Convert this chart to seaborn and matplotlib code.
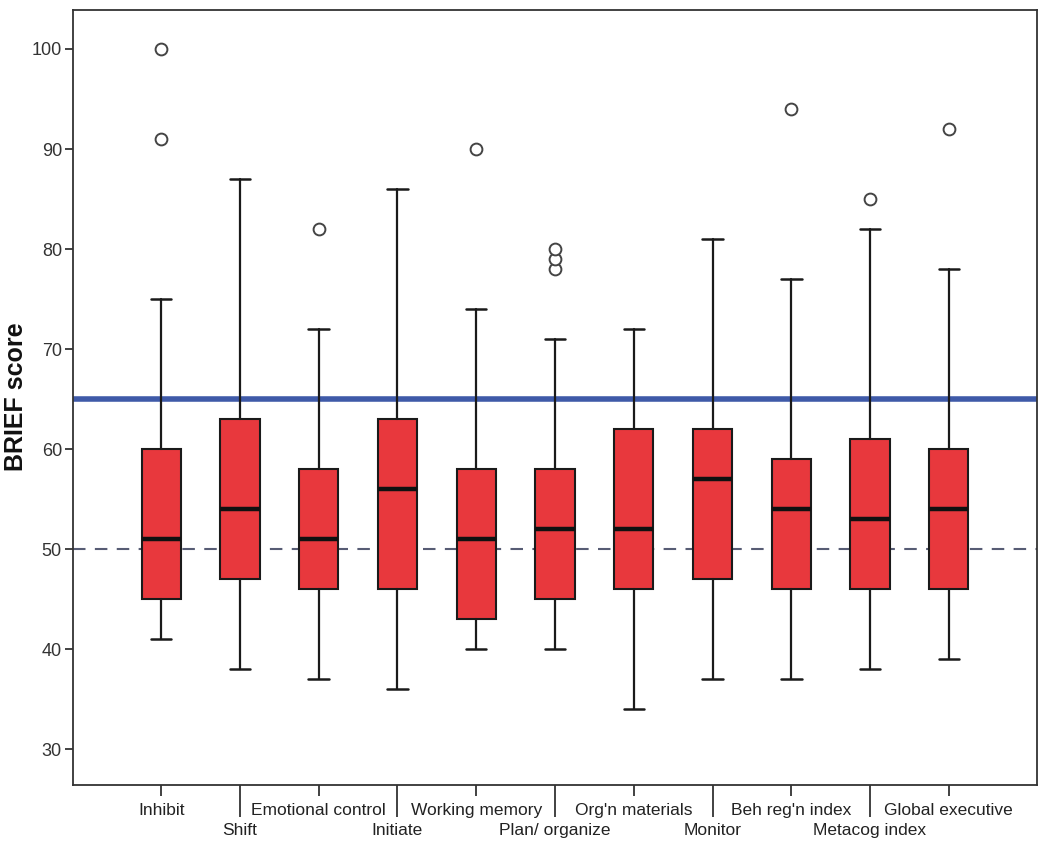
import matplotlib
matplotlib.use("Agg")
import matplotlib.pyplot as plt
import seaborn as sns

# ---- data ----
categories = ["Inhibit", "Shift", "Emotional control", "Initiate", "Working memory",
              "Plan/ organize", "Org'n materials", "Monitor", "Beh reg'n index",
              "Metacog index", "Global executive"]
whisker_low = [41, 38, 37, 36, 40, 40, 34, 37, 37, 38, 39]
q1 = [45, 47, 46, 46, 43, 45, 46, 47, 46, 46, 46]
median = [51, 54, 51, 56, 51, 52, 52, 57, 54, 53, 54]
q3 = [60, 63, 58, 63, 58, 58, 62, 62, 59, 61, 60]
whisker_high = [75, 87, 72, 86, 74, 71, 72, 81, 77, 82, 78]
outliers = [[91, 100], [], [82], [], [90], [78, 79, 80], [], [], [94], [85], [92]]
clinical_cutoff = 65
norm_mean = 50
y_ticks = [30, 40, 50, 60, 70, 80, 90, 100]

sns.set_theme(style="ticks")
plt.rcParams["font.family"] = ["Liberation Sans", "DejaVu Sans"]

fig = plt.figure(figsize=(10.5, 8.47), dpi=100)
ax = fig.add_axes([73 / 1050, 1 - 785 / 847, (1037 - 73) / 1050, (785 - 10) / 847])

stats = []
for i, name in enumerate(categories):
    stats.append(dict(label=name, whislo=whisker_low[i], q1=q1[i], med=median[i],
                      q3=q3[i], whishi=whisker_high[i], fliers=outliers[i]))

positions = list(range(len(categories)))

# reference lines (drawn beneath boxes)
ax.axhline(norm_mean, color="#575c74", lw=1.5, ls=(0, (6, 4.5)), zorder=1)
ax.axhline(clinical_cutoff, color="#3f5aa8", lw=4, zorder=1)

ax.bxp(stats, positions=positions, widths=0.5, patch_artist=True,
       boxprops=dict(facecolor="#e8383d", edgecolor="#1a1a1a", linewidth=1.5),
       medianprops=dict(color="#111111", linewidth=3.2),
       whiskerprops=dict(color="#1a1a1a", linewidth=1.6),
       capprops=dict(color="#1a1a1a", linewidth=1.8),
       capwidths=0.26,
       flierprops=dict(marker="o", markersize=8.5, markerfacecolor="white",
                       markeredgecolor="#444444", markeredgewidth=1.4),
       zorder=2)

ax.set_xlim(-1.12, len(categories) - 1 + 1.12)
ax.set_ylim(26.4, 103.9)
ax.set_yticks(y_ticks)
ax.set_yticklabels([str(v) for v in y_ticks], fontsize=13, color="#333333")
ax.tick_params(axis="y", direction="out", length=6, width=1.3, color="#333333", pad=2)

# staggered x labels: even positions on top row, odd positions lower with long ticks
even = positions[0::2]
odd = positions[1::2]
ax.set_xticks(even)
ax.set_xticklabels([categories[i] for i in even], fontsize=12.5, color="#222222")
ax.set_xticks(odd, minor=True)
ax.set_xticklabels([categories[i] for i in odd], minor=True, fontsize=12.5, color="#222222")
ax.tick_params(axis="x", which="major", direction="out", length=8, width=1.3,
               color="#333333", pad=5)
ax.tick_params(axis="x", which="minor", direction="out", length=23, width=1.3,
               color="#333333", pad=4)

for sp in ax.spines.values():
    sp.set_color("#333333")
    sp.set_linewidth(1.3)
    sp.set_visible(True)

ax.set_xlabel("")
fig.text(16 / 1050, 1 - 397 / 847, "BRIEF score", rotation=90, fontsize=18,
         fontweight="bold", color="#111111", ha="center", va="center")

fig.savefig("out.png", dpi=100, facecolor="white")
